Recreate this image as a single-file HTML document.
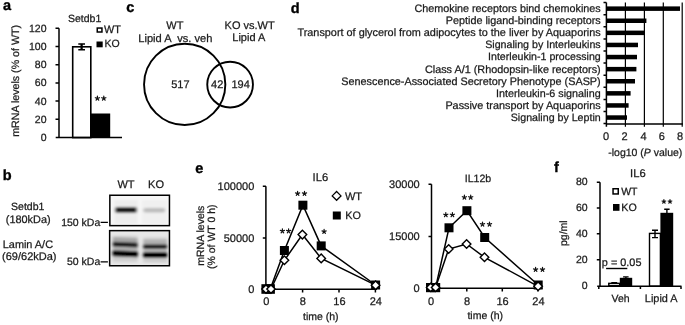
<!DOCTYPE html>
<html><head><meta charset="utf-8">
<style>
html,body{margin:0;padding:0;background:#fff;width:685px;height:325px;overflow:hidden;}
svg{display:block;filter:grayscale(1);text-rendering:geometricPrecision;font-family:"Liberation Sans",sans-serif;}
.t{font-size:10.5px;fill:#1a1a1a;stroke:#1a1a1a;stroke-width:0.25;}
.L{font-size:14.5px;font-weight:bold;fill:#000;stroke:#000;stroke-width:0.35;}
.st{font-size:15px;fill:#1a1a1a;stroke:#1a1a1a;stroke-width:0.3;}
.ax{stroke:#000;stroke-width:1.5;fill:none;}
</style></head><body>
<svg width="685" height="325" viewBox="0 0 685 325">
<defs>
  <filter id="bl1" x="-20%" y="-50%" width="140%" height="200%"><feGaussianBlur stdDeviation="1.5 1.2"/></filter>
  <filter id="bl2" x="-20%" y="-50%" width="140%" height="200%"><feGaussianBlur stdDeviation="1.4 1"/></filter>
  <linearGradient id="g2" x1="0" y1="0" x2="0" y2="1">
    <stop offset="0" stop-color="#e8e8e8"/>
    <stop offset="1" stop-color="#f2f2f2"/>
  </linearGradient>
  <path id="sA" d="M0 0L0.00 -2.20M0 0L2.09 -0.68M0 0L1.29 1.78M0 0L-1.29 1.78M0 0L-2.09 -0.68" stroke="#111" stroke-width="1.2" stroke-linecap="round" fill="none"/>
  <path id="sB" d="M0 0L0.00 -1.95M0 0L1.85 -0.60M0 0L1.15 1.58M0 0L-1.15 1.58M0 0L-1.85 -0.60" stroke="#111" stroke-width="1.15" stroke-linecap="round" fill="none"/>
</defs>

<!-- ===== Panel a ===== -->
<text class="L" x="3.1" y="10.3">a</text>
<text class="t" x="84.6" y="22.3" text-anchor="middle">Setdb1</text>
<rect x="97.25" y="28.05" width="4.7" height="3.95" fill="#fff" stroke="#000" stroke-width="1.5"/>
<text class="t" x="104.1" y="32.9" style="font-size:10.9px">WT</text>
<rect x="96.5" y="41.5" width="6.2" height="5.8" fill="#000"/>
<text class="t" x="104.5" y="47.4">KO</text>
<!-- y label -->
<text class="t" transform="translate(18.5,80.9) rotate(-90)" text-anchor="middle" style="font-size:10.65px">mRNA levels (% of WT)</text>
<!-- ticks labels -->
<g class="t" text-anchor="end">
<text x="46.5" y="31.8">120</text>
<text x="46.5" y="50.0">100</text>
<text x="46.5" y="68.1">80</text>
<text x="46.5" y="86.3">60</text>
<text x="46.5" y="104.5">40</text>
<text x="46.5" y="122.7">20</text>
<text x="46.5" y="140.8">0</text>
</g>
<!-- bars -->
<rect x="72.7" y="46.8" width="18.1" height="90.8" fill="#fff" stroke="#000" stroke-width="1.6"/>
<rect x="90.6" y="113.5" width="19.6" height="24.1" fill="#000"/>
<!-- error bar -->
<path d="M81.6 43.9V49.7M78.3 43.9H85M78.3 49.7H85" stroke="#000" stroke-width="1.5" fill="none"/><path d="M81.6 43.9V49.7" stroke="#000" stroke-width="2"/>
<path class="ax" d="M59 28.3V137.6M55.5 28.3H59M55.5 46.5H59M55.5 64.7H59M55.5 82.9H59M55.5 101.1H59M55.5 119.3H59M55.7 137.6H122"/>
<use href="#sA" x="97.4" y="98.4"/><use href="#sA" x="103.8" y="98.4"/>

<!-- ===== Panel b ===== -->
<text class="L" x="2.8" y="180">b</text>
<g class="t" text-anchor="middle">
<text x="27.7" y="210">Setdb1</text>
<text x="28.2" y="223.4" style="font-size:10.9px">(180kDa)</text>
<text x="27.9" y="247.5" style="font-size:10.9px">Lamin A/C</text>
<text x="29.3" y="260.4" style="font-size:11px">(69/62kDa)</text>
</g>
<text class="t" x="100.3" y="225.7" text-anchor="end">150 kDa</text>
<text class="t" x="100.3" y="265" text-anchor="end">50 kDa</text>
<path d="M100.6 222.3H107.9M100.6 261.9H107.9" stroke="#000" stroke-width="1.3"/>
<text class="t" x="126" y="187.9" text-anchor="middle" style="font-size:11px">WT</text>
<text class="t" x="156" y="187.9" text-anchor="middle" style="font-size:11px">KO</text>
<!-- blot 1 -->
<rect x="109.85" y="195.25" width="59.6" height="30.4" fill="#f7f7f7"/>
<g filter="url(#bl1)">
<rect x="114" y="200" width="24" height="24" fill="#ededed"/>
<rect x="142" y="200" width="25" height="24" fill="#f0f0f0"/>
<rect x="115" y="206.9" width="22" height="5.9" rx="2.6" fill="#1a1a1a"/>
<rect x="143.3" y="208.1" width="21.9" height="4.4" rx="2" fill="#bdbdbd"/>
</g>
<rect x="109.85" y="195.25" width="59.6" height="30.4" fill="none" stroke="#000" stroke-width="1.5"/>
<!-- blot 2 -->
<rect x="109.65" y="230.65" width="59.8" height="35.1" fill="#e8e8e8"/>
<g filter="url(#bl2)">
<rect x="112.8" y="235.5" width="24.8" height="27" fill="#d6d6d6"/>
<rect x="143.3" y="237" width="23.8" height="26" fill="#d8d8d8"/>
<rect x="112.8" y="256.5" width="24.8" height="4" fill="#cdcdcd"/>
<rect x="143.3" y="258" width="23.8" height="4" fill="#cdcdcd"/>
<polygon points="112.8,237 137.6,238 137.6,243 112.8,242" fill="#a6a6a6"/>
<polygon points="143.3,239.4 167.1,239.4 167.1,245 143.3,245" fill="#b0b0b0"/>
<polygon points="112.8,246.2 137.6,247.2 137.6,251.5 112.8,250.5" fill="#b3b3b3"/>
<polygon points="143.3,248.4 167.1,248.4 167.1,252.6 143.3,252.6" fill="#b8b8b8"/>
<polygon points="112.8,241.8 137.6,242.8 137.6,247.4 112.8,246.4" fill="#1a1a1a"/>
<polygon points="143.3,244.5 167.1,244.5 167.1,248.9 143.3,248.9" fill="#1e1e1e"/>
<polygon points="112.6,250.2 137.8,251.2 137.8,257.2 112.6,256.2" fill="#000"/>
<polygon points="143.2,252.2 167.2,252.2 167.2,258 143.2,258" fill="#000"/>
</g>
<rect x="109.65" y="230.65" width="59.8" height="35.1" fill="none" stroke="#000" stroke-width="1.5"/>

<!-- ===== Panel c ===== -->
<text class="L" x="126.3" y="11.7">c</text>
<g class="t" style="font-size:11px">
<text x="174.9" y="28.6" text-anchor="middle">WT</text>
<text x="138.3" y="41.5" xml:space="preserve" style="font-size:11.1px">Lipid A  vs. veh</text>
<text x="224.6" y="28.6">KO vs.WT</text>
<text x="232.3" y="41">Lipid A</text>
<text x="171.2" y="87.6">517</text>
<text x="211.1" y="88.2">42</text>
<text x="231.4" y="88.2">194</text>
</g>
<circle cx="184.7" cy="84.4" r="40.65" fill="none" stroke="#000" stroke-width="1.9"/>
<circle cx="230.1" cy="84.6" r="22.85" fill="none" stroke="#000" stroke-width="1.9"/>

<!-- ===== Panel d ===== -->
<text class="L" x="290.7" y="13.2">d</text>
<g class="t" text-anchor="end" style="font-size:10.8px">
<text x="600.7" y="12.0" style="font-size:10.78px">Chemokine receptors bind chemokines</text>
<text x="600.7" y="24.1" style="font-size:10.81px">Peptide ligand-binding receptors</text>
<text x="600.7" y="36.2" style="font-size:10.86px">Transport of glycerol from adipocytes to the liver by Aquaporins</text>
<text x="600.7" y="48.3" style="font-size:10.67px">Signaling by Interleukins</text>
<text x="600.7" y="60.4" style="font-size:10.61px">Interleukin-1 processing</text>
<text x="600.7" y="72.5" style="font-size:10.84px">Class A/1 (Rhodopsin-like receptors)</text>
<text x="600.7" y="84.6" style="font-size:10.83px">Senescence-Associated Secretory Phenotype (SASP)</text>
<text x="600.7" y="96.7" style="font-size:10.76px">Interleukin-6 signaling</text>
<text x="600.7" y="108.8" style="font-size:10.84px">Passive transport by Aquaporins</text>
<text x="600.7" y="120.9" style="font-size:10.65px">Signaling by Leptin</text>
</g>
<!-- gridlines -->
<path d="M625.4 2.6V126.8M644.4 2.6V126.8M663.3 2.6V126.8M682.2 2.6V126.8" stroke="#000" stroke-width="1.2"/>
<g fill="#000">
<rect x="606.4" y="6.4" width="73.6" height="4.5"/>
<rect x="606.4" y="18.5" width="40" height="4.5"/>
<rect x="606.4" y="30.6" width="38" height="4.5"/>
<rect x="606.4" y="42.7" width="31.6" height="4.5"/>
<rect x="606.4" y="54.8" width="30.6" height="4.5"/>
<rect x="606.4" y="66.9" width="30" height="4.5"/>
<rect x="606.4" y="79" width="28.6" height="4.5"/>
<rect x="606.4" y="91.1" width="24.2" height="4.5"/>
<rect x="606.4" y="103.2" width="22.2" height="4.5"/>
<rect x="606.4" y="115.3" width="20.6" height="4.5"/>
</g>
<path class="ax" d="M606.4 2.6V126.8M603.5 2.6H606.4M603.5 14.7H606.4M603.5 26.8H606.4M603.5 38.9H606.4M603.5 51H606.4M603.5 63.1H606.4M603.5 75.2H606.4M603.5 87.3H606.4M603.5 99.4H606.4M603.5 111.5H606.4M603.5 123.6H606.4M606.4 124H682.9"/>
<g class="t" text-anchor="middle" style="font-size:11px">
<text x="606" y="140.4">0</text>
<text x="624.6" y="140.4">2</text>
<text x="643.5" y="140.4">4</text>
<text x="661.8" y="140.4">6</text>
<text x="680.1" y="140.4">8</text>
</g>
<text class="t" x="645.3" y="155.9" text-anchor="middle">-log10 (<tspan font-style="italic">P</tspan> value)</text>

<!-- ===== Panel e ===== -->
<text class="L" x="195.3" y="172.5">e</text>
<text class="t" transform="translate(203.5,235.7) rotate(-90)" text-anchor="middle">mRNA levels</text>
<text class="t" transform="translate(215,236.7) rotate(-90)" text-anchor="middle">(% of WT 0 h)</text>
<!-- chart 1 -->
<text class="t" x="320.4" y="181.3" text-anchor="middle" style="font-size:11.2px">IL6</text>
<g class="t" text-anchor="end" style="font-size:11px">
<text x="254.3" y="189.5">100000</text>
<text x="254.3" y="241.7">50000</text>
<text x="254.3" y="292.7">0</text>
</g>
<path class="ax" d="M265.9 186.3V289.2M262.8 186.3H265.9M262.8 237.9H265.9M262.8 289.2H377M302.6 289.2V292.5M339 289.2V292.5M375.4 289.2V292.5M266.2 289.2V292.5"/>
<g class="t" text-anchor="middle" style="font-size:11px">
<text x="266.3" y="305.4">0</text>
<text x="302.9" y="305.4">8</text>
<text x="339.4" y="305.4">16</text>
<text x="375.8" y="305.4">24</text>
<text x="320.8" y="320.4" style="font-size:10.5px">time (h)</text>
</g>
<!-- KO line -->
<polyline points="266,289 270.3,289 284.4,250.5 302.9,205.2 321.2,245.9 375.6,285" fill="none" stroke="#000" stroke-width="1.5"/>
<polyline points="266,289.1 271,289.1 284.4,260.3 302.4,234.6 321.2,258.4 375.6,285.2" fill="none" stroke="#000" stroke-width="1.5"/>
<g fill="#000">
<rect x="261.4" y="284.2" width="9.2" height="9.6"/>
<rect x="265.7" y="284.2" width="9.2" height="9.6"/>
<rect x="279.9" y="246" width="9" height="9"/>
<rect x="298.4" y="200.7" width="9" height="9"/>
<rect x="316.7" y="241.4" width="9" height="9"/>
<rect x="371.1" y="280.5" width="9" height="9"/>
</g>
<g fill="#fff" stroke="#000" stroke-width="1.4">
<path d="M266 284.9l4.2 4.2l-4.2 4.2l-4.2 -4.2z"/>
<path d="M271 284.9l4.2 4.2l-4.2 4.2l-4.2 -4.2z"/>
<path d="M284.4 256l4.3 4.3l-4.3 4.3l-4.3 -4.3z"/>
<path d="M302.4 230.3l4.3 4.3l-4.3 4.3l-4.3 -4.3z"/>
<path d="M321.2 254.1l4.3 4.3l-4.3 4.3l-4.3 -4.3z"/>
<path d="M375.6 280.9l4.3 4.3l-4.3 4.3l-4.3 -4.3z"/>
</g>
<use href="#sA" x="282.4" y="231"/><use href="#sA" x="288.6" y="231"/>
<use href="#sA" x="297.6" y="193.6"/><use href="#sA" x="304.5" y="193.6"/>
<use href="#sA" x="324.1" y="231.6"/>
<!-- legend -->
<path d="M336.6 191.5l4.4 4.4l-4.4 4.4l-4.4 -4.4z" fill="#fff" stroke="#000" stroke-width="1.25"/>
<text class="t" x="344.9" y="199.7" style="font-size:11px">WT</text>
<rect x="332.8" y="211.5" width="8" height="8" fill="#000"/>
<text class="t" x="345.3" y="218.8" style="font-size:10.8px">KO</text>

<!-- chart 2 -->
<text class="t" x="478" y="181.9" text-anchor="middle" style="font-size:10.6px">IL12b</text>
<g class="t" text-anchor="end" style="font-size:11px">
<text x="419.7" y="188.1">30000</text>
<text x="419.7" y="240.3">15000</text>
<text x="419.7" y="292">0</text>
</g>
<path class="ax" d="M431.5 184.3V288.3M428.5 184.3H431.5M428.5 236.4H431.5M428.5 288.3H542.5M466.8 288.3V291.5M502.3 288.3V291.5M537.9 288.3V291.5M431.3 288.3V291.5"/>
<g class="t" text-anchor="middle" style="font-size:11px">
<text x="431" y="304.5">0</text>
<text x="467.1" y="304.5">8</text>
<text x="502.6" y="304.5">16</text>
<text x="538.4" y="304.5">24</text>
<text x="485.2" y="318.6" style="font-size:10.5px">time (h)</text>
</g>
<polyline points="430.6,287.6 435.6,287.6 449,227.8 466.9,210.7 484.7,237.5 538.2,285" fill="none" stroke="#000" stroke-width="1.5"/>
<polyline points="430.6,287.4 435.6,287.4 448.7,249 466.6,244 484.5,257.3 538.1,286.3" fill="none" stroke="#000" stroke-width="1.5"/>
<g fill="#000">
<rect x="426" y="283" width="9.2" height="9.2"/>
<rect x="431" y="283" width="9.2" height="9.2"/>
<rect x="444.5" y="223.3" width="9" height="9"/>
<rect x="462.4" y="206.2" width="9" height="9"/>
<rect x="480.2" y="233" width="9" height="9"/>
<rect x="533.7" y="280.5" width="9" height="9"/>
</g>
<g fill="#fff" stroke="#000" stroke-width="1.4">
<path d="M430.6 283.2l4.2 4.2l-4.2 4.2l-4.2 -4.2z"/>
<path d="M435.6 283.2l4.2 4.2l-4.2 4.2l-4.2 -4.2z"/>
<path d="M448.7 244.7l4.3 4.3l-4.3 4.3l-4.3 -4.3z"/>
<path d="M466.6 239.7l4.3 4.3l-4.3 4.3l-4.3 -4.3z"/>
<path d="M484.5 253l4.3 4.3l-4.3 4.3l-4.3 -4.3z"/>
<path d="M538.1 282l4.3 4.3l-4.3 4.3l-4.3 -4.3z"/>
</g>
<use href="#sA" x="445.8" y="214.9"/><use href="#sA" x="452.4" y="214.9"/>
<use href="#sA" x="464.4" y="197.4"/><use href="#sA" x="470.7" y="197.4"/>
<use href="#sA" x="482.5" y="224.3"/><use href="#sA" x="489.5" y="224.3"/>
<use href="#sA" x="535.6" y="269.6"/><use href="#sA" x="542.5" y="269.6"/>

<!-- ===== Panel f ===== -->
<text class="L" x="554" y="171.8">f</text>
<text class="t" x="637.9" y="177.1" text-anchor="middle" style="font-size:11.2px">IL6</text>
<text class="t" transform="translate(567.3,233.2) rotate(-90)" text-anchor="middle">pg/ml</text>
<g class="t" text-anchor="end">
<text x="587.6" y="185.3">80</text>
<text x="587.6" y="211.1">60</text>
<text x="587.6" y="236.9">40</text>
<text x="587.6" y="262.7">20</text>
<text x="587.6" y="288.5">0</text>
</g>
<rect x="613.05" y="188.75" width="5.2" height="5.2" fill="#fff" stroke="#000" stroke-width="1.5"/>
<text class="t" x="621.2" y="195.1">WT</text>
<rect x="613" y="204" width="6.5" height="6.8" fill="#000"/>
<text class="t" x="621.3" y="211" style="font-size:10.7px">KO</text>
<!-- bars -->
<rect x="608.8" y="283.4" width="10.9" height="2.4" fill="#fff" stroke="#000" stroke-width="1.5"/>
<rect x="619.8" y="277.8" width="12.4" height="8.4" fill="#000"/>
<rect x="649.5" y="233.4" width="10.9" height="52.8" fill="#fff" stroke="#000" stroke-width="1.4"/>
<rect x="660.4" y="212.8" width="12.8" height="73.4" fill="#000"/>
<path d="M655 230.3V237.6M652 230.3H658M652 237.6H658M666.9 209.2V215M664.2 209.2H669.6M611.3 282.6H617.2M614.2 282.6V284M623.1 276.9H628.6M625.9 276.9V278.5" stroke="#000" stroke-width="1.4" fill="none"/>
<path class="ax" d="M600 182.2V286.2M596.8 182.2H600M596.8 208H600M596.8 233.8H600M596.8 259.7H600M597.2 286.2H681.5M598.8 286.2V289M640.4 286.2V289M681 286.2V289"/>
<text class="t" x="601.8" y="265.6" style="font-size:10.9px">p = 0.05</text>
<path d="M606.1 268.5H627.3" stroke="#000" stroke-width="1.4"/>
<use href="#sB" x="663.9" y="201.6"/><use href="#sB" x="670" y="201.6"/>
<g class="t" text-anchor="middle">
<text x="620.6" y="301.9">Veh</text>
<text x="661.2" y="301.9" style="font-size:10.9px">Lipid A</text>
</g>
</svg>
</body></html>
